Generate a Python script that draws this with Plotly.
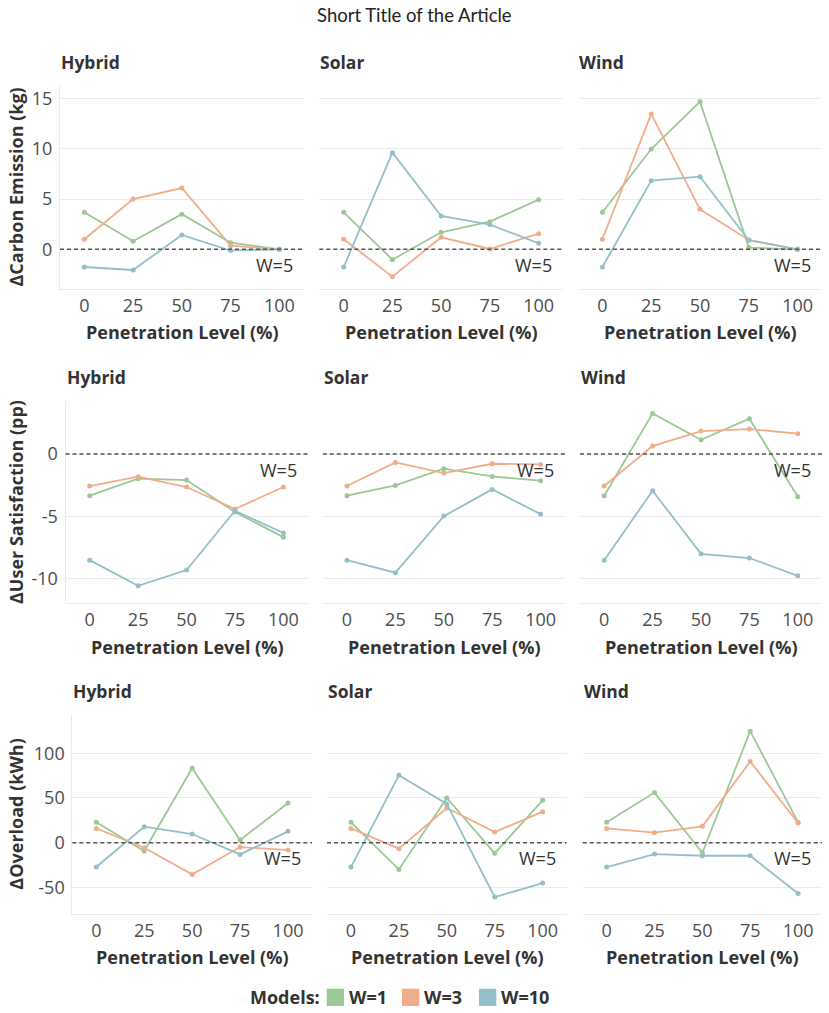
import plotly.graph_objects as go

W, H = 829, 1013

levels = [0, 25, 50, 75, 100]
sources = ["Hybrid", "Solar", "Wind"]
models = ["W=1", "W=3", "W=10"]
colors = ["#9cc896", "#f1ad89", "#94bfc9"]

# ΔCarbon Emission (kg)
carbon_hybrid_w1 = [3.68, 0.8, 3.5, 0.66, 0.0]
carbon_hybrid_w3 = [1.0, 5.0, 6.1, 0.36, 0.0]
carbon_hybrid_w10 = [-1.76, -2.06, 1.43, -0.13, 0.0]
carbon_solar_w1 = [3.68, -1.03, 1.69, 2.75, 4.94]
carbon_solar_w3 = [1.0, -2.72, 1.19, 0.03, 1.56]
carbon_solar_w10 = [-1.76, 9.62, 3.32, 2.45, 0.6]
carbon_wind_w1 = [3.68, 9.98, 14.69, 0.17, 0.0]
carbon_wind_w3 = [1.0, 13.47, 3.98, 0.93, 0.0]
carbon_wind_w10 = [-1.76, 6.83, 7.23, 0.9, 0.0]

# ΔUser Satisfaction (pp)
sat_hybrid_w1 = [-3.35, -1.98, -2.09, -4.66, -6.68]
sat_hybrid_w3 = [-2.57, -1.82, -2.65, -4.42, -2.65]
sat_hybrid_w10 = [-8.53, -10.59, -9.33, -4.56, -6.35]
sat_solar_w1 = [-3.35, -2.52, -1.18, -1.8, -2.14]
sat_solar_w3 = [-2.57, -0.67, -1.53, -0.78, -0.83]
sat_solar_w10 = [-8.53, -9.54, -4.99, -2.84, -4.83]
sat_wind_w1 = [-3.35, 3.27, 1.15, 2.84, -3.43]
sat_wind_w3 = [-2.57, 0.64, 1.85, 2.01, 1.64]
sat_wind_w10 = [-8.53, -2.95, -8.02, -8.36, -9.79]

# ΔOverload (kWh)
over_hybrid_w1 = [22.8, -9.3, 83.2, 3.0, 44.4]
over_hybrid_w3 = [16.0, -5.6, -35.4, -4.9, -8.2]
over_hybrid_w10 = [-27.2, 17.9, 9.7, -13.1, 12.7]
over_solar_w1 = [22.8, -29.9, 50.0, -11.9, 47.4]
over_solar_w3 = [16.0, -6.7, 38.8, 11.9, 34.7]
over_solar_w10 = [-27.2, 75.4, 43.3, -60.8, -45.1]
over_wind_w1 = [22.8, 56.0, -11.2, 124.6, 22.8]
over_wind_w3 = [16.0, 11.2, 18.3, 90.7, 22.0]
over_wind_w10 = [-27.2, -12.7, -14.6, -14.6, -56.7]

metric_titles = ["ΔCarbon Emission (kg)", "ΔUser Satisfaction (pp)", "ΔOverload (kWh)"]
carbon_ticks = [0, 5, 10, 15]
carbon_ticktext = ["0", "5", "10", "15"]
sat_ticks = [-10, -5, 0]
sat_ticktext = ["-10", "-5", "0"]
over_ticks = [-50, 0, 50, 100]
over_ticktext = ["-50", "0", "50", "100"]
x_ticktext = ["0", "25", "50", "75", "100"]
baseline_label = "W=5"

data = [
    [[carbon_hybrid_w1, carbon_hybrid_w3, carbon_hybrid_w10],
     [carbon_solar_w1, carbon_solar_w3, carbon_solar_w10],
     [carbon_wind_w1, carbon_wind_w3, carbon_wind_w10]],
    [[sat_hybrid_w1, sat_hybrid_w3, sat_hybrid_w10],
     [sat_solar_w1, sat_solar_w3, sat_solar_w10],
     [sat_wind_w1, sat_wind_w3, sat_wind_w10]],
    [[over_hybrid_w1, over_hybrid_w3, over_hybrid_w10],
     [over_solar_w1, over_solar_w3, over_solar_w10],
     [over_wind_w1, over_wind_w3, over_wind_w10]],
]
row_ticks = [(carbon_ticks, carbon_ticktext), (sat_ticks, sat_ticktext), (over_ticks, over_ticktext)]

# layout (pixels)
panel_x = [
    [(60, 303.7), (319.3, 563), (578, 822)],
    [(65.5, 307.6), (322.8, 564.8), (580, 822)],
    [(72.3, 312), (327, 566.6), (582.7, 822)],
]
panel_y = [(86, 289), (400.7, 603.3), (715, 914.3)]
y_ranges = [(-3.95, 16.25), (-12.0, 4.29), (-80.0, 142.7)]
facet_title_y = [61.7, 376.7, 690.7]
xtitle_y = [332, 647.3, 957.3]

FONT = "Open Sans"
DARK = "#333333"
TICK = "#4d4d4d"
GRID = "#ebebeb"

fig = go.Figure()
annotations = []
shapes = []
layout_axes = {}

for r in range(3):
    for c in range(3):
        i = r * 3 + c + 1
        xa = "x" if i == 1 else f"x{i}"
        ya = "y" if i == 1 else f"y{i}"
        xkey = "xaxis" if i == 1 else f"xaxis{i}"
        ykey = "yaxis" if i == 1 else f"yaxis{i}"
        x0, x1 = panel_x[r][c]
        y0, y1 = panel_y[r]
        layout_axes[xkey] = dict(
            domain=[x0 / W, x1 / W], anchor=ya, range=[-12.5, 112.5],
            tickvals=levels, ticktext=x_ticktext, showgrid=False, zeroline=False,
            showline=True, linecolor=GRID, linewidth=1, ticks="", ticklabelstandoff=0,
            tickfont=dict(family=FONT, size=18, color=TICK), fixedrange=True,
        )
        layout_axes[ykey] = dict(
            domain=[1 - y1 / H, 1 - y0 / H], anchor=xa, range=list(y_ranges[r]),
            tickvals=row_ticks[r][0], ticktext=row_ticks[r][1] if c == 0 else None,
            showticklabels=(c == 0), showgrid=True, gridcolor=GRID, gridwidth=1,
            zeroline=False, showline=(c == 0), linecolor=GRID, linewidth=1, ticks="",
            ticklabelstandoff=3, tickfont=dict(family=FONT, size=18, color=TICK), fixedrange=True,
        )
        # baseline
        shapes.append(dict(type="line", xref=f"{xa} domain", yref=ya, x0=0, x1=1, y0=0, y1=0,
                           line=dict(color="#555555", width=1.6, dash="4px,3px"), layer="above"))
        for m in range(3):
            fig.add_trace(go.Scatter(
                x=levels, y=data[r][c][m], mode="lines+markers", xaxis=xa, yaxis=ya,
                line=dict(color=colors[m], width=1.8), marker=dict(color=colors[m], size=5),
                showlegend=False, hoverinfo="skip",
            ))
        annotations.append(dict(text=baseline_label, xref=f"{xa} domain", yref=ya, x=1, y=0,
                                xanchor="right", yanchor="middle", xshift=-9, yshift=-15.5,
                                showarrow=False, font=dict(family=FONT, size=18, color=DARK)))
        annotations.append(dict(text=f"<b>{sources[c]}</b>", xref="paper", yref="paper",
                                x=x0 / W, y=1 - facet_title_y[r] / H, xanchor="left", yanchor="middle",
                                xshift=-1, showarrow=False, font=dict(family=FONT, size=17.5, color=DARK)))
        annotations.append(dict(text="<b>Penetration Level (%)</b>", xref="paper", yref="paper",
                                x=(x0 + x1) / 2 / W, y=1 - xtitle_y[r] / H, xanchor="center",
                                yanchor="middle", showarrow=False,
                                font=dict(family=FONT, size=18, color=DARK)))
    y0, y1 = panel_y[r]
    annotations.append(dict(text=f"<b>{metric_titles[r]}</b>", xref="paper", yref="paper",
                            x=16 / W, y=1 - (y0 + y1) / 2 / H, xanchor="center", yanchor="middle",
                            textangle=-90, showarrow=False,
                            font=dict(family=FONT, size=18, color=DARK)))

# manual legend (paper coordinates, pixels)
legend_y = 997.3
legend_title_x = 250
legend_square_x = [326.7, 402.0, 479.0]
legend_square = 17.3
annotations.append(dict(text="<b>Models:</b>", xref="paper", yref="paper", x=legend_title_x / W,
                        y=1 - legend_y / H, xanchor="left", yanchor="middle", xshift=-2,
                        showarrow=False, font=dict(family=FONT, size=18, color=DARK)))
for m in range(3):
    sx = legend_square_x[m]
    shapes.append(dict(type="rect", xref="paper", yref="paper",
                       x0=sx / W, x1=(sx + legend_square) / W,
                       y0=1 - (legend_y + legend_square / 2) / H, y1=1 - (legend_y - legend_square / 2) / H,
                       fillcolor=colors[m], line=dict(width=0)))
    annotations.append(dict(text=f"<b>{models[m]}</b>", xref="paper", yref="paper",
                            x=(sx + legend_square + 3) / W, y=1 - legend_y / H, xanchor="left",
                            yanchor="middle", showarrow=False,
                            font=dict(family=FONT, size=18, color=DARK)))

annotations.append(dict(text="Short Title of the Article", xref="paper", yref="paper",
                        x=0.5, y=1 - 15 / H, xanchor="center", yanchor="middle", showarrow=False,
                        font=dict(family="Lato", size=18.5, color="#222222")))

fig.update_layout(
    width=W, height=H, margin=dict(l=0, r=0, t=0, b=0),
    paper_bgcolor="white", plot_bgcolor="white", showlegend=False,
    annotations=annotations, shapes=shapes,
    **layout_axes,
)

fig.write_html("out.html")
